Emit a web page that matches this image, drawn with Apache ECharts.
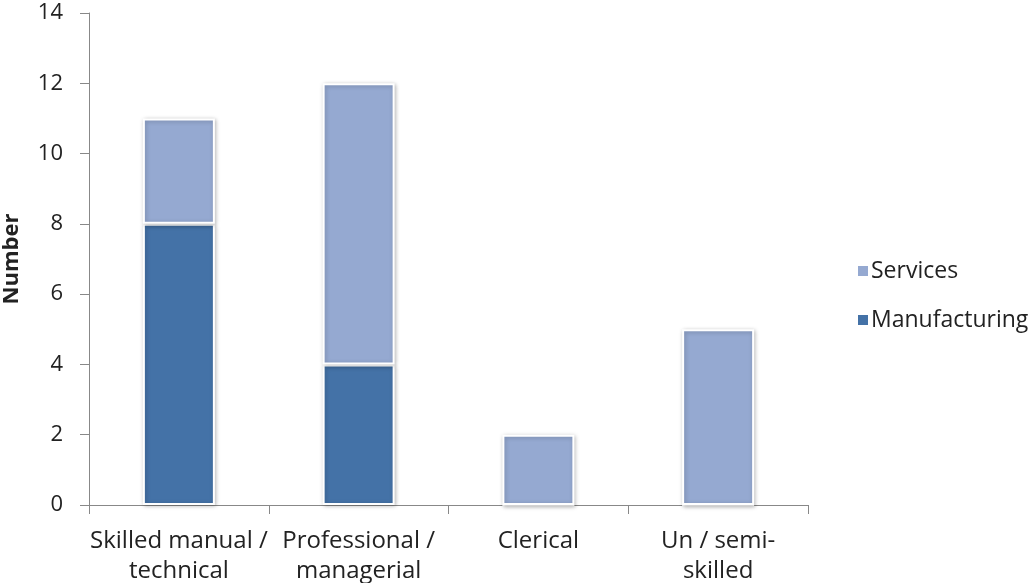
<!DOCTYPE html>
<html><head><meta charset="utf-8">
<script src="https://cdn.jsdelivr.net/npm/echarts@6/dist/echarts.min.js"></script>
<style>html,body{margin:0;padding:0;background:#fff}#c{width:1032px;height:583px}</style>
</head><body><div id="c"></div>
<script>
const categories = ['Skilled manual /\ntechnical', 'Professional /\nmanagerial', 'Clerical', 'Un / semi-\nskilled'];
const manufacturing = [8, 4, 0, 0];
const services = [3, 8, 2, 5];
const yTicks = { min: 0, max: 14, interval: 2 };

const font = '"Open Sans", "Liberation Sans", sans-serif';
const chart = echarts.init(document.getElementById('c'), null, { renderer: 'canvas' });
const barStyle = (color) => ({
  color: color, borderColor: '#ffffff', borderWidth: 2,
  shadowBlur: 4, shadowColor: 'rgba(0,0,0,0.25)', shadowOffsetX: 1, shadowOffsetY: 1
});
chart.setOption({
  animation: false,
  textStyle: { fontFamily: font },
  grid: { left: 89, right: 224, top: 13, bottom: 78, containLabel: false, outerBoundsMode: 'none' },
  legend: {
    orient: 'vertical', left: 851, top: 254,
    data: ['Services', 'Manufacturing'],
    itemWidth: 12, itemHeight: 12, itemGap: 25,
    icon: 'rect',
    textStyle: { fontSize: 23, lineHeight: 24, color: '#222', fontFamily: font, padding: [0, 0, 0, -3] }
  },
  xAxis: {
    type: 'category', data: categories,
    axisLine: { lineStyle: { color: '#888', width: 1 } },
    axisTick: { show: true, alignWithLabel: false, length: 9, lineStyle: { color: '#888' } },
    axisLabel: { fontSize: 24, color: '#222', margin: 21, lineHeight: 30, interval: 0, fontFamily: font }
  },
  yAxis: {
    type: 'value', min: yTicks.min, max: yTicks.max, interval: yTicks.interval,
    name: 'Number', nameLocation: 'middle', nameGap: 66, nameRotate: 90,
    nameTextStyle: { fontSize: 22, color: '#222', fontFamily: font, fontWeight: 'bold' },
    axisLine: { show: true, lineStyle: { color: '#888', width: 1 } },
    axisTick: { show: true, length: 9, lineStyle: { color: '#888' } },
    splitLine: { show: false },
    axisLabel: { fontSize: 22, color: '#222', margin: 26, fontFamily: font }
  },
  series: [
    { name: 'Manufacturing', type: 'bar', stack: 'a', data: manufacturing, barWidth: 72, itemStyle: barStyle('#4472A7') },
    { name: 'Services', type: 'bar', stack: 'a', data: services, barWidth: 72, itemStyle: barStyle('#95A9D1') }
  ]
});
</script></body></html>
